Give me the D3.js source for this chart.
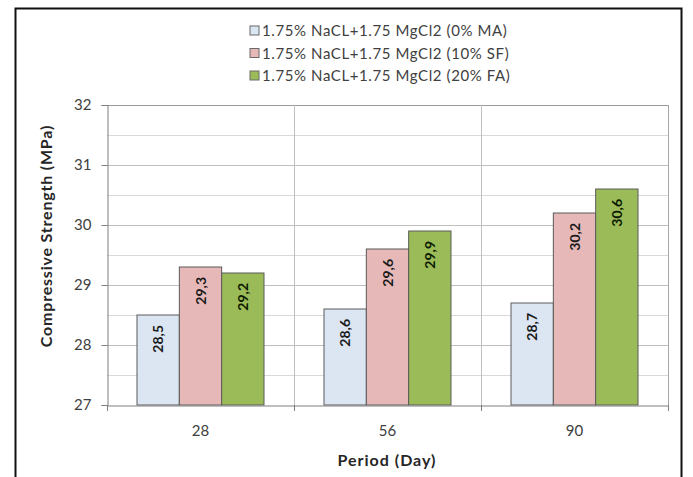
<!DOCTYPE html>
<html>
<head>
<meta charset="utf-8">
<script src="https://cdn.jsdelivr.net/npm/d3@7"></script>
<style>
  body { margin: 0; background: #fff; }
  svg text { font-family: Lato, "Open Sans", sans-serif; }
</style>
</head>
<body>
<div id="chart"></div>
<script>
const periods = ['28', '56', '90'];
const seriesNames = ['1.75% NaCL+1.75 MgCl2 (0% MA)', '1.75% NaCL+1.75 MgCl2 (10% SF)', '1.75% NaCL+1.75 MgCl2 (20% FA)'];
const maValues = [28.5, 28.6, 28.7];
const sfValues = [29.3, 29.6, 30.2];
const faValues = [29.2, 29.9, 30.6];
const yTicks = [27, 28, 29, 30, 31, 32];
const colors = ['#dce6f2', '#e6b9b8', '#9bbb59'];

const allSeries = [maValues, sfValues, faValues];

const svgWidth = 693, svgHeight = 477;
const plot = { left: 107, top: 105, right: 668, bottom: 405 };

const svg = d3.select('#chart').append('svg')
    .attr('width', svgWidth)
    .attr('height', svgHeight);

// outer frame
svg.append('rect')
    .attr('x', 15.5).attr('y', 8.5)
    .attr('width', 666).attr('height', 480)
    .attr('fill', 'none')
    .attr('stroke', '#111')
    .attr('stroke-width', 2);

const xScale = d3.scaleBand()
    .domain(periods)
    .range([plot.left, plot.right]);

const xInner = d3.scaleBand()
    .domain(d3.range(seriesNames.length))
    .range([30, xScale.bandwidth() - 30]);

const yScale = d3.scaleLinear()
    .domain([27, 32])
    .range([plot.bottom, plot.top]);

// minor gridlines
svg.append('g')
    .selectAll('line')
    .data(d3.range(27.5, 32, 1))
    .enter().append('line')
    .attr('x1', plot.left).attr('x2', plot.right)
    .attr('y1', d => Math.round(yScale(d)) + 0.5)
    .attr('y2', d => Math.round(yScale(d)) + 0.5)
    .attr('stroke', '#d9d9d9');

// major gridlines
svg.append('g')
    .selectAll('line')
    .data(yTicks.slice(1))
    .enter().append('line')
    .attr('x1', plot.left).attr('x2', plot.right)
    .attr('y1', d => Math.round(yScale(d)) + 0.5)
    .attr('y2', d => Math.round(yScale(d)) + 0.5)
    .attr('stroke', d => d === 32 ? '#9a9a9a' : '#bfbfbf');

// vertical gridlines between categories
svg.append('g')
    .selectAll('line')
    .data(periods.slice(1))
    .enter().append('line')
    .attr('x1', d => Math.round(xScale(d)) + 0.5)
    .attr('x2', d => Math.round(xScale(d)) + 0.5)
    .attr('y1', plot.top).attr('y2', plot.bottom)
    .attr('stroke', '#bfbfbf');

// plot right border
svg.append('line')
    .attr('x1', plot.right + 0.5).attr('x2', plot.right + 0.5)
    .attr('y1', plot.top).attr('y2', plot.bottom)
    .attr('stroke', '#a6a6a6');

// bars
const groups = svg.append('g')
    .selectAll('g')
    .data(periods)
    .enter().append('g')
    .attr('transform', d => 'translate(' + xScale(d) + ',0)');

groups.selectAll('rect')
    .data((d, i) => allSeries.map((s, k) => ({ k: k, v: s[i] })))
    .enter().append('rect')
    .attr('x', d => xInner(d.k))
    .attr('y', d => yScale(d.v))
    .attr('width', xInner.bandwidth())
    .attr('height', d => plot.bottom - yScale(d.v))
    .attr('fill', d => colors[d.k])
    .attr('stroke', '#5a5a5a')
    .attr('stroke-width', 1);

groups.selectAll('text')
    .data((d, i) => allSeries.map((s, k) => ({ k: k, v: s[i] })))
    .enter().append('text')
    .attr('transform', d => 'translate(' + (xInner(d.k) + xInner.bandwidth() / 2 + 5) + ',' + (yScale(d.v) + 10) + ') rotate(-90)')
    .attr('text-anchor', 'end')
    .style('font-size', '14px')
    .style('font-weight', 'bold')
    .style('fill', d => d.k === 2 ? '#0d1a00' : '#1a1a1a')
    .text(d => d.v.toFixed(1).replace('.', ','));

// y axis
const yAxis = svg.append('g')
    .attr('transform', 'translate(' + (plot.left + 0.5) + ',0)')
    .call(d3.axisLeft(yScale).tickValues(yTicks).tickFormat(d3.format('d')).tickSize(6).tickPadding(10));
yAxis.select('.domain').attr('stroke', '#7f7f7f');
yAxis.selectAll('.tick line').attr('stroke', '#7f7f7f');
yAxis.selectAll('.tick text')
    .style('font-size', '15px')
    .style('fill', '#404040')
    .style('font-family', 'Lato, "Open Sans", sans-serif');

// x axis
const xAxis = svg.append('g')
    .attr('transform', 'translate(0,' + (plot.bottom + 0.5) + ')')
    .call(d3.axisBottom(xScale).tickSize(0).tickPadding(20));
xAxis.select('.domain').attr('stroke', '#7f7f7f');
xAxis.selectAll('.tick text')
    .style('font-size', '15px')
    .style('fill', '#404040')
    .style('font-family', 'Lato, "Open Sans", sans-serif');

// category boundary ticks
svg.append('g')
    .selectAll('line')
    .data(periods.concat(['end']))
    .enter().append('line')
    .attr('x1', d => Math.round(d === 'end' ? plot.right : xScale(d)) + 0.5)
    .attr('x2', d => Math.round(d === 'end' ? plot.right : xScale(d)) + 0.5)
    .attr('y1', plot.bottom).attr('y2', plot.bottom + 6)
    .attr('stroke', '#7f7f7f');

// axis titles
svg.append('text')
    .attr('transform', 'translate(52,236) rotate(-90)')
    .attr('text-anchor', 'middle')
    .style('font-size', '16px')
    .style('font-weight', 'bold')
    .style('letter-spacing', '0.8px')
    .style('fill', '#262626')
    .text('Compressive Strength (MPa)');

svg.append('text')
    .attr('x', 387)
    .attr('y', 466)
    .attr('text-anchor', 'middle')
    .style('font-size', '16px')
    .style('font-weight', 'bold')
    .style('letter-spacing', '1px')
    .style('fill', '#262626')
    .text('Period (Day)');

// legend
const legend = svg.append('g')
    .selectAll('g')
    .data(seriesNames)
    .enter().append('g')
    .attr('transform', (d, i) => 'translate(250,' + (31 + i * 22.5) + ')');

legend.append('rect')
    .attr('x', 0).attr('y', -5)
    .attr('width', 9).attr('height', 9)
    .attr('fill', (d, i) => colors[i])
    .attr('stroke', '#6a6a6a');

legend.append('text')
    .attr('x', 12)
    .attr('y', 5)
    .style('font-size', '15px')
    .style('letter-spacing', '0.6px')
    .style('fill', '#404040')
    .text(d => d);
</script>
</body>
</html>
